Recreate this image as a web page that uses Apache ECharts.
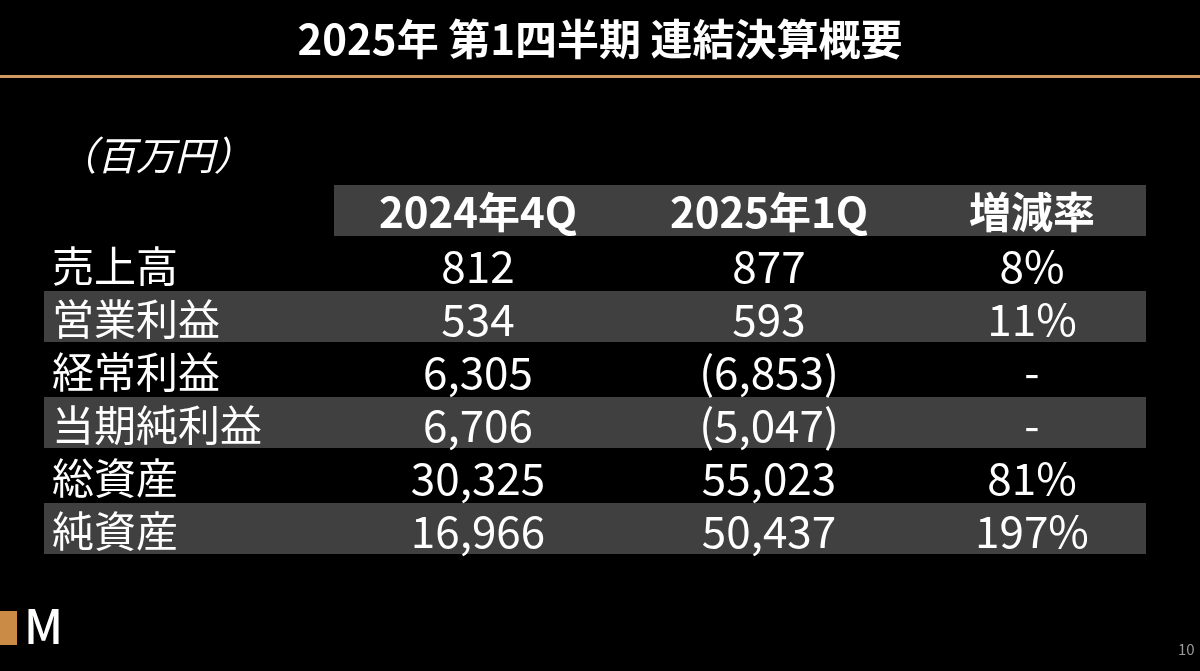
<!DOCTYPE html>
<html>
<head>
<meta charset="utf-8">
<script src="https://cdn.jsdelivr.net/npm/echarts@6/dist/echarts.min.js"></script>
<style>
html,body{margin:0;padding:0;background:#000;}
#chart{width:1200px;height:671px;}
</style>
</head>
<body>
<div id="chart"></div>
<script>
const titleText = '2025年 第1四半期 連結決算概要';
const unitText = '（百万円）';
const rowLabels = ['売上高', '営業利益', '経常利益', '当期純利益', '総資産', '純資産'];
const colHeaders = ['2024年4Q', '2025年1Q', '増減率'];
const q4_2024 = [812, 534, 6305, 6706, 30325, 16966];
const q1_2025 = [877, 593, -6853, -5047, 55023, 50437];
const changeRate = [8, 11, null, null, 81, 197];

const FONT = '"Noto Sans CJK JP", "Noto Sans", sans-serif';
const STRIPE = '#404040';
const LABEL_X = 52;
const COL_X = [478, 769, 1032];
const TABLE_RIGHT = 1146;
const HEADER_LEFT = 334;
const ROW_LEFT = 44;

function fmtNum(v) {
  const s = Math.abs(v).toLocaleString('en-US');
  return v < 0 ? '(' + s + ')' : s;
}
function fmtRate(v) {
  return v == null ? '-' : v + '%';
}

const yCats = ['header'].concat(rowLabels);

const chart = echarts.init(document.getElementById('chart'), null, {renderer: 'canvas'});

function textSeries(name, values, fmt, x, align, size) {
  return {
    type: 'custom',
    name: name,
    coordinateSystem: 'cartesian2d',
    data: values.map((v, i) => [x, i + 1, v]),
    silent: true,
    z: 3,
    renderItem: function (params, api) {
      const i = params.dataIndex;
      const p = api.coord([api.value(0), api.value(1)]);
      return {
        type: 'text',
        style: {
          text: fmt(values[i]),
          x: p[0],
          y: p[1] + 3,
          fill: '#ffffff',
          font: 'normal ' + size + 'px ' + FONT,
          align: align,
          verticalAlign: 'middle'
        }
      };
    }
  };
}

const option = {
  backgroundColor: '#000000',
  animation: false,
  grid: {left: 0, right: 0, top: 184, bottom: 116, containLabel: false},
  xAxis: {type: 'value', min: 0, max: 1200, show: false},
  yAxis: {type: 'category', data: yCats, inverse: true, show: false},
  title: {
    text: titleText,
    left: 'center',
    top: 13,
    textStyle: {color: '#ffffff', fontSize: 42, fontWeight: 'bold', fontFamily: FONT}
  },
  graphic: [
    {type: 'rect', shape: {x: 0, y: 75, width: 1200, height: 3}, style: {fill: '#cf9a62'}},
    {type: 'text', x: 58, y: 136, style: {text: unitText, fill: '#ffffff', font: 'italic 39px ' + FONT}},
    {type: 'rect', shape: {x: 0, y: 611, width: 17, height: 34}, style: {fill: '#c98b45'}},
    {type: 'text', x: 24, y: 603, style: {text: 'M', fill: '#ffffff', font: '500 47px ' + FONT}},
    {type: 'text', x: 1178, y: 642, style: {text: '10', fill: '#9a9a9a', font: '15px ' + FONT}}
  ],
  series: [
    {
      type: 'custom',
      name: 'stripes',
      coordinateSystem: 'cartesian2d',
      data: yCats.map((c, i) => [0, i]),
      silent: true,
      z: 1,
      renderItem: function (params, api) {
        const i = params.dataIndex;
        const bandH = api.size([0, 1])[1];
        const c = api.coord([0, api.value(1)]);
        let left;
        if (i === 0) left = HEADER_LEFT;
        else if (i % 2 === 0) left = ROW_LEFT;
        else return null;
        const l = api.coord([left, api.value(1)])[0];
        const r = api.coord([TABLE_RIGHT, api.value(1)])[0];
        return {
          type: 'rect',
          shape: {x: l, y: c[1] - bandH / 2 + 1, width: r - l, height: bandH - 2},
          style: {fill: STRIPE}
        };
      }
    },
    {
      type: 'custom',
      name: 'headers',
      coordinateSystem: 'cartesian2d',
      data: colHeaders.map((h, j) => [COL_X[j], 0]),
      silent: true,
      z: 3,
      renderItem: function (params, api) {
        const j = params.dataIndex;
        const p = api.coord([api.value(0), api.value(1)]);
        return {
          type: 'text',
          style: {
            text: colHeaders[j],
            x: p[0],
            y: p[1] + 2,
            fill: '#ffffff',
            font: 'bold 42px ' + FONT,
            align: 'center',
            verticalAlign: 'middle'
          }
        };
      }
    },
    textSeries('labels', rowLabels, v => v, LABEL_X, 'left', 42),
    textSeries('2024年4Q', q4_2024, fmtNum, COL_X[0], 'center', 44),
    textSeries('2025年1Q', q1_2025, fmtNum, COL_X[1], 'center', 44),
    textSeries('増減率', changeRate, fmtRate, COL_X[2], 'center', 44)
  ]
};
chart.setOption(option);
</script>
</body>
</html>
